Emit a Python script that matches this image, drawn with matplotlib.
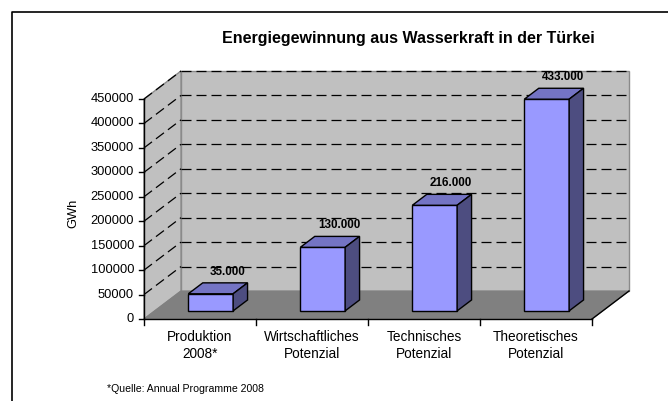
import numpy as np
import matplotlib.pyplot as plt
import matplotlib.patches as mpatches
import matplotlib.transforms as mtransforms

# Daten
kategorien = ["Produktion\n2008*", "Wirtschaftliches\nPotenzial",
              "Technisches\nPotenzial", "Theoretisches\nPotenzial"]
werte = [35000, 130000, 216000, 433000]
y_ticks = [0, 50000, 100000, 150000, 200000, 250000, 300000, 350000, 400000, 450000]

plt.rcParams['font.family'] = ['Liberation Sans', 'DejaVu Sans']

W, H = 668, 401
fig = plt.figure(figsize=(W / 100, H / 100), dpi=100)
fig.patch.set_facecolor('white')

# vordere Ebene des Diagramms (Pixel aus dem Bild)
x0, x1, y0, y1 = 144, 592, 319, 99
ax = fig.add_axes([x0 / W, 1 - y0 / H, (x1 - x0) / W, (y0 - y1) / H])
ax.set_xlim(0, 4)
ax.set_ylim(0, 450000)
ax.axis('off')

# Tiefe in Pixeln
DX, DY = 37, 28
ident = mtransforms.IdentityTransform()


def P(x, y, d):
    px, py = ax.transData.transform((x, y))
    return (px + d * DX, py + d * DY)


def poly(pts, fc, ec='none', lw=0.8, z=1):
    p = mpatches.Polygon(pts, closed=True, facecolor=fc, edgecolor=ec,
                         linewidth=lw, transform=ident, zorder=z,
                         clip_on=False)
    fig.add_artist(p)


def line(a, b, **kw):
    fig.add_artist(plt.Line2D([a[0], b[0]], [a[1], b[1]], transform=ident, **kw))


fig.canvas.draw()
ymax = y_ticks[-1]

# Rahmen
fig.add_artist(plt.Line2D([12, 12, W + 5], [-5, H - 12, H - 12],
                          transform=ident, color='black', lw=1.2))

# Wände und Boden
poly([P(0, 0, 1), P(4, 0, 1), P(4, ymax, 1), P(0, ymax, 1)], '#C0C0C0', '#8A8A8A', 1.0)
poly([P(0, 0, 0), P(0, 0, 1), P(0, ymax, 1), P(0, ymax, 0)], '#C0C0C0', '#8A8A8A', 1.0)
poly([P(0, 0, 0), P(4, 0, 0), P(4, 0, 1), P(0, 0, 1)], '#808080', '#808080', 0.8)

# Gitterlinien
for v in y_ticks[1:]:
    line(P(0, v, 1), P(4, v, 1), color='black', lw=0.9, dashes=(8, 4), zorder=2)
    line(P(0, v, 0), P(0, v, 1), color='black', lw=0.9, dashes=(8, 4), zorder=2)

# Achsen
line(P(0, 0, 0), P(0, ymax, 0), color='black', lw=1.0, zorder=3)
line(P(0, 0, 0), P(4, 0, 0), color='black', lw=1.0, zorder=3)
line(P(4, 0, 0), P(4, 0, 1), color='black', lw=1.0, zorder=3)
for v in y_ticks:
    a = P(0, v, 0)
    line((a[0] - 5, a[1]), a, color='black', lw=1.0, zorder=3)
    fig.text((a[0] - 10) / W, a[1] / H, str(v), ha='right', va='center',
             fontsize=9.3, color='black')
for i in range(5):
    a = P(i, 0, 0)
    line(a, (a[0], a[1] - 6), color='black', lw=1.0, zorder=3)
for i, k in enumerate(kategorien):
    a = P(i + 0.5, 0, 0)
    fig.text(a[0] / W, (a[1] - 11) / H, k, ha='center', va='top',
             fontsize=9.8, linespacing=1.3)

# Balken
bw = 0.4
d0, d1 = 0.29, 0.68
for i, v in enumerate(werte):
    xl, xr = i + 0.5 - bw / 2, i + 0.5 + bw / 2
    poly([P(xl, 0, d0), P(xr, 0, d0), P(xr, v, d0), P(xl, v, d0)], '#9999FF', 'black', 1.0, 5)
    poly([P(xl, v, d0), P(xr, v, d0), P(xr, v, d1), P(xl, v, d1)], '#7474C4', 'black', 1.0, 5)
    poly([P(xr, 0, d0), P(xr, 0, d1), P(xr, v, d1), P(xr, v, d0)], '#4D4D80', 'black', 1.0, 5)
    c = P(i + 0.5, v, d1)
    fig.text((c[0] + 2) / W, (c[1] + 11) / H, f"{v:,}".replace(",", "."),
             ha='center', va='center', fontsize=8.4, fontweight='bold', zorder=6)

# Titel, Achsentitel, Quelle
fig.text(408 / W, 1 - 43.5 / H, "Energiegewinnung aus Wasserkraft in der Türkei",
         ha='center', va='baseline', fontsize=11.5, fontweight='bold')
fig.text(73 / W, 1 - 213 / H, "GWh", rotation=90, ha='center', va='center', fontsize=9.3)
fig.text(107 / W, 1 - 389 / H, "*Quelle: Annual Programme 2008", ha='left', va='center',
         fontsize=7.6)

fig.savefig("out.png", dpi=100)
